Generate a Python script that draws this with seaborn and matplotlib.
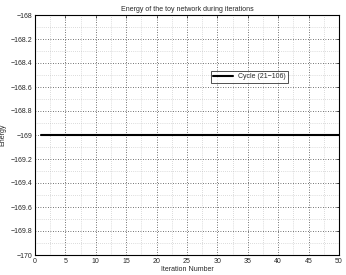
import numpy as np
import pandas as pd
import matplotlib
matplotlib.use('Agg')
import matplotlib.pyplot as plt
import seaborn as sns
from matplotlib.ticker import MultipleLocator, FuncFormatter

# energy of the toy network, one value per iteration (cycle 21-106)
iterations = list(range(1, 51))
energy = [-169.0] * 50
series_label = 'Cycle (21\u2212106)'

df = pd.DataFrame({'Iteration Number': iterations, 'Energy': energy})

sns.set_style('white')
plt.rcParams['font.family'] = ['Liberation Sans', 'DejaVu Sans']
fs = 5

fig = plt.figure(figsize=(3.46, 2.75), dpi=100)
ax = fig.add_axes([35 / 346, 20 / 275, 304 / 346, 240 / 275])

sns.lineplot(data=df, x='Iteration Number', y='Energy', color='black',
             linewidth=1.5, label=series_label, ax=ax)

ax.set_xlim(0, 50)
ax.set_ylim(-170, -168)
ax.xaxis.set_major_locator(MultipleLocator(5))
ax.xaxis.set_minor_locator(MultipleLocator(2.5))
ax.yaxis.set_major_locator(MultipleLocator(0.2))
ax.yaxis.set_minor_locator(MultipleLocator(0.1))

def fmt(v, pos):
    s = ('%.1f' % v).rstrip('0').rstrip('.')
    return s.replace('-', '\u2212')

ax.yaxis.set_major_formatter(FuncFormatter(fmt))
ax.xaxis.set_major_formatter(FuncFormatter(fmt))

ax.grid(which='major', color='#444444', linestyle=(0, (1, 2)), linewidth=0.6)
ax.grid(which='minor', color='#bbbbbb', linestyle=(0, (1, 2)), linewidth=0.5)
ax.tick_params(which='both', direction='in', top=True, right=True,
               length=2.5, width=0.5, labelsize=fs, pad=2)
ax.tick_params(which='minor', length=0)
for s in ax.spines.values():
    s.set_linewidth(0.8)
    s.set_color('black')

ax.set_title('Energy of the toy network during iterations', fontsize=fs, pad=3)
ax.set_xlabel('Iteration Number', fontsize=fs, labelpad=1)
ax.set_ylabel('Energy', fontsize=fs, labelpad=3)

leg = ax.legend(loc='upper left', bbox_to_anchor=(0.58, 0.765), fontsize=fs,
                frameon=True, fancybox=False, edgecolor='black',
                handlelength=2.8, borderpad=0.3, borderaxespad=0)
leg.get_frame().set_linewidth(0.6)

fig.savefig('out.png', dpi=100)
